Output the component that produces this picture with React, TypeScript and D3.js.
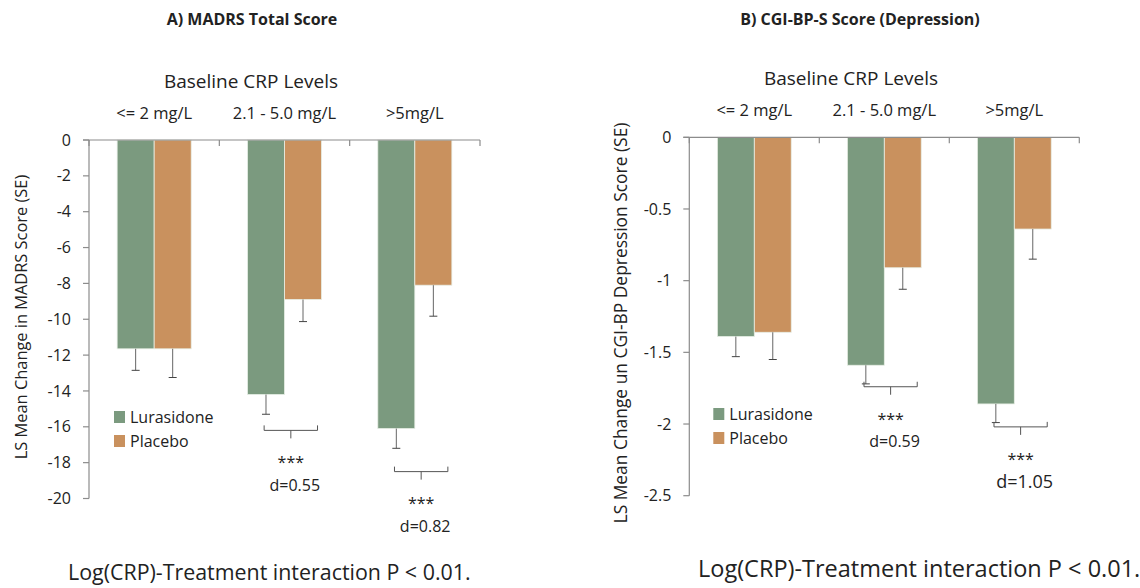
import { useEffect, useRef } from 'react';
import * as d3 from 'd3';

const categories = ['<= 2 mg/L', '2.1 - 5.0 mg/L', '>5mg/L'];
const seriesNames = ['Lurasidone', 'Placebo'];
const seriesColors = ['#7b9a7f', '#c9915e'];

// A) MADRS
const madrsLurasidone = [-11.65, -14.2, -16.1];
const madrsPlacebo = [-11.65, -8.9, -8.1];
const madrsLurasidoneSE = [1.2, 1.1, 1.1];
const madrsPlaceboSE = [1.6, 1.23, 1.73];
const madrsTicks = [0, -2, -4, -6, -8, -10, -12, -14, -16, -18, -20];
const madrsSig = [
  { cat: 1, y: -16.2, stars: '***', d: 'd=0.55', size: 16 },
  { cat: 2, y: -18.5, stars: '***', d: 'd=0.82', size: 16 },
];

// B) CGI-BP-S
const cgiLurasidone = [-1.39, -1.59, -1.86];
const cgiPlacebo = [-1.36, -0.91, -0.64];
const cgiLurasidoneSE = [0.14, 0.13, 0.13];
const cgiPlaceboSE = [0.19, 0.15, 0.21];
const cgiTicks = [0, -0.5, -1, -1.5, -2, -2.5];
const cgiSig = [
  { cat: 1, y: -1.74, stars: '***', d: 'd=0.59', size: 16 },
  { cat: 2, y: -2.02, stars: '***', d: 'd=1.05', size: 18 },
];

const FONT = '"Open Sans", sans-serif';

function drawPanel(svg, cfg) {
  const g = svg.append('g');
  const x = d3.scaleBand().domain(categories).range([cfg.x0, cfg.x1]).paddingInner(0).paddingOuter(0);
  const xs = d3.scaleBand().domain(seriesNames).range([0, x.bandwidth()]).paddingInner(0).paddingOuter(0.76);
  const y = d3.scaleLinear().domain([cfg.min, 0]).range([cfg.yBottom, cfg.yTop]);

  // title
  g.append('text')
    .attr('x', cfg.titleX).attr('y', 25)
    .attr('text-anchor', 'middle')
    .attr('font-family', FONT).attr('font-size', 16).attr('font-weight', 'bold')
    .attr('fill', '#222')
    .text(cfg.title);

  g.append('text')
    .attr('x', cfg.headX).attr('y', cfg.headY)
    .attr('text-anchor', 'middle')
    .attr('font-family', FONT).attr('font-size', 19)
    .attr('fill', '#222')
    .text('Baseline CRP Levels');

  categories.forEach((c) => {
    g.append('text')
      .attr('x', x(c) + x.bandwidth() / 2).attr('y', cfg.catY)
      .attr('text-anchor', 'middle')
      .attr('font-family', FONT).attr('font-size', 16.5)
      .attr('fill', '#222')
      .text(c);
  });

  // bars
  const values = [cfg.lur, cfg.pla];
  const ses = [cfg.lurSE, cfg.plaSE];
  seriesNames.forEach((s, si) => {
    categories.forEach((c, ci) => {
      const v = values[si][ci];
      const bx = x(c) + xs(s);
      g.append('rect')
        .attr('x', bx).attr('y', y(0))
        .attr('width', xs.bandwidth()).attr('height', y(v) - y(0))
        .attr('fill', seriesColors[si])
        .attr('stroke', '#e8efe6').attr('stroke-width', 0.8);
      const cx = bx + xs.bandwidth() / 2;
      const lo = v - ses[si][ci];
      g.append('line')
        .attr('x1', cx).attr('x2', cx).attr('y1', y(v)).attr('y2', y(lo))
        .attr('stroke', '#666').attr('stroke-width', 1);
      g.append('line')
        .attr('x1', cx - 4).attr('x2', cx + 4).attr('y1', y(lo)).attr('y2', y(lo))
        .attr('stroke', '#444').attr('stroke-width', 1);
    });
  });

  // x axis at zero (top)
  g.append('line')
    .attr('x1', cfg.x0 - 6).attr('x2', cfg.x1).attr('y1', y(0)).attr('y2', y(0))
    .attr('stroke', '#8c8c8c').attr('stroke-width', 1.2);
  const bounds = categories.map((c) => x(c)).concat([cfg.x1]);
  bounds.forEach((bx) => {
    g.append('line')
      .attr('x1', bx).attr('x2', bx).attr('y1', y(0)).attr('y2', y(0) + 6)
      .attr('stroke', '#8c8c8c').attr('stroke-width', 1.2);
  });

  // y axis
  g.append('line')
    .attr('x1', cfg.x0).attr('x2', cfg.x0).attr('y1', y(0)).attr('y2', y(cfg.min))
    .attr('stroke', '#8c8c8c').attr('stroke-width', 1.2);
  cfg.ticks.forEach((t) => {
    g.append('line')
      .attr('x1', cfg.x0 - 6).attr('x2', cfg.x0).attr('y1', y(t)).attr('y2', y(t))
      .attr('stroke', '#8c8c8c').attr('stroke-width', 1.2);
    g.append('text')
      .attr('x', cfg.x0 - 18).attr('y', y(t))
      .attr('dy', '0.35em')
      .attr('text-anchor', 'end')
      .attr('font-family', FONT).attr('font-size', 16)
      .attr('fill', '#222')
      .text(String(t));
  });

  g.append('text')
    .attr('transform', `translate(${cfg.labelX},${cfg.labelY}) rotate(-90)`)
    .attr('text-anchor', 'middle')
    .attr('dy', '0.35em')
    .attr('font-family', FONT).attr('font-size', cfg.labelSize)
    .attr('fill', '#222')
    .text(cfg.yLabel);

  // legend
  seriesNames.forEach((s, si) => {
    const ly = cfg.legendY + si * 24;
    g.append('rect')
      .attr('x', x(categories[0]) + cfg.legendDx).attr('y', ly - 6)
      .attr('width', 11).attr('height', 12)
      .attr('fill', seriesColors[si]);
    g.append('text')
      .attr('x', x(categories[0]) + cfg.legendDx + 16).attr('y', ly)
      .attr('dy', '0.35em')
      .attr('font-family', FONT).attr('font-size', 16)
      .attr('fill', '#222')
      .text(s);
  });

  // significance brackets
  cfg.sig.forEach((sg) => {
    const c = categories[sg.cat];
    const left = x(c) + xs('Lurasidone') + xs.bandwidth() * 0.45;
    const right = x(c) + xs('Placebo') + xs.bandwidth() - 4;
    const mid = (left + right) / 2;
    const by = y(sg.y);
    g.append('path')
      .attr('d', `M${left},${by - 5}V${by}H${right}V${by - 5}M${mid},${by}V${by + 8}`)
      .attr('fill', 'none')
      .attr('stroke', '#555').attr('stroke-width', 1);
    g.append('text')
      .attr('x', mid).attr('y', by + 29)
      .attr('dy', '0.55em')
      .attr('text-anchor', 'middle')
      .attr('font-family', FONT).attr('font-size', 16)
      .attr('fill', '#222')
      .text(sg.stars);
    g.append('text')
      .attr('x', mid + 4).attr('y', by + 55)
      .attr('dy', '0.35em')
      .attr('text-anchor', 'middle')
      .attr('font-family', FONT).attr('font-size', sg.size)
      .attr('fill', '#222')
      .text(sg.d);
  });

  g.append('text')
    .attr('x', cfg.footX).attr('y', cfg.footY)
    .attr('font-family', FONT).attr('font-size', cfg.footSize)
    .attr('fill', '#222')
    .text(cfg.foot);
}

export default function App() {
  const svgRef = useRef(null);

  useEffect(() => {
    const svg = d3.select(svgRef.current);
    svg.selectAll('*').remove();

    drawPanel(svg, {
      title: 'A) MADRS Total Score', titleX: 252,
      headX: 251, headY: 88, catY: 119,
      x0: 89, x1: 480, yTop: 140, yBottom: 498.5, min: -20,
      ticks: madrsTicks,
      lur: madrsLurasidone, pla: madrsPlacebo, lurSE: madrsLurasidoneSE, plaSE: madrsPlaceboSE,
      yLabel: 'LS Mean Change in MADRS Score (SE)', labelX: 21, labelY: 317, labelSize: 16.4,
      legendY: 417, legendDx: 25,
      sig: madrsSig,
      foot: 'Log(CRP)-Treatment interaction P < 0.01.', footX: 68, footY: 580, footSize: 21.4,
    });

    drawPanel(svg, {
      title: 'B) CGI-BP-S Score (Depression)', titleX: 860,
      headX: 851, headY: 85, catY: 116,
      x0: 689.3, x1: 1079.3, yTop: 137.3, yBottom: 495.7, min: -2.5,
      ticks: cgiTicks,
      lur: cgiLurasidone, pla: cgiPlacebo, lurSE: cgiLurasidoneSE, plaSE: cgiPlaceboSE,
      yLabel: 'LS Mean Change un CGI-BP Depression Score (SE)', labelX: 621, labelY: 323, labelSize: 17.4,
      legendY: 414, legendDx: 24,
      sig: cgiSig,
      foot: 'Log(CRP)-Treatment interaction P < 0.01.', footX: 698, footY: 577, footSize: 23.5,
    });
  }, []);

  return (
    <svg
      ref={svgRef}
      width={1140}
      height={588}
      style={{ position: 'absolute', left: 0, top: 0, background: '#fff' }}
    />
  );
}
